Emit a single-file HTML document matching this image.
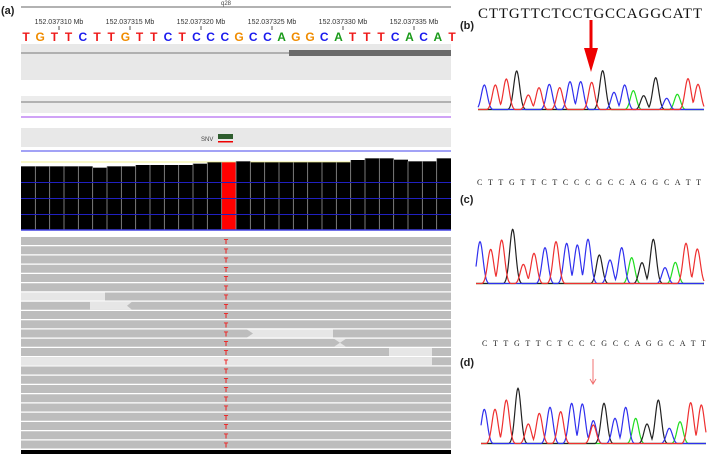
<!DOCTYPE html>
<html><head><meta charset="utf-8"><style>
body{margin:0;background:#fff;width:709px;height:455px;overflow:hidden;font-family:"Liberation Sans",sans-serif}
svg{position:absolute;left:0;top:0}
</style></head><body>
<svg id="s" width="709" height="455" xmlns="http://www.w3.org/2000/svg">
<text x="1" y="14" font-size="11" font-weight="bold" fill="#222">(a)</text>
<line x1="21" y1="7" x2="451" y2="7" stroke="#666"/>
<text x="226" y="5" font-size="6" text-anchor="middle" fill="#444">q28</text>
<g font-size="7" fill="#333" text-anchor="middle">
<text x="59" y="24">152.037310 Mb</text><text x="130" y="24">152.037315 Mb</text>
<text x="201" y="24">152.037320 Mb</text><text x="272" y="24">152.037325 Mb</text>
<text x="343" y="24">152.037330 Mb</text><text x="414" y="24">152.037335 Mb</text>
</g>
<g stroke="#555"><line x1="59" y1="26" x2="59" y2="30"/><line x1="130" y1="26" x2="130" y2="30"/><line x1="201" y1="26" x2="201" y2="30"/><line x1="272" y1="26" x2="272" y2="30"/><line x1="343" y1="26" x2="343" y2="30"/><line x1="414" y1="26" x2="414" y2="30"/></g>
<g id="bases" font-size="12" font-weight="bold" text-anchor="middle"></g>
<rect x="21" y="44" width="430" height="36" fill="#e8e8e8"/>
<line x1="21" y1="53" x2="289" y2="53" stroke="#777"/>
<rect x="289" y="50" width="162" height="6" fill="#6a6a6a"/>
<rect x="21" y="96" width="430" height="17" fill="#ececec"/>
<line x1="21" y1="102" x2="451" y2="102" stroke="#777"/>
<line x1="21" y1="117" x2="451" y2="117" stroke="#b46cf0" stroke-width="1.2"/>
<rect x="21" y="128" width="430" height="19" fill="#e8e8e8"/>
<text x="201" y="141" font-size="6" fill="#444">SNV</text>
<rect x="218" y="134" width="15" height="5" fill="#2e5d2e"/>
<rect x="218" y="141" width="15" height="1.5" fill="#e00"/>
<line x1="21" y1="151" x2="451" y2="151" stroke="#6a6af0" stroke-width="1.2"/>
<line x1="21" y1="162" x2="451" y2="162" stroke="#f0f090"/>
<g id="cov"></g>
<g stroke="#2020c0" stroke-width="1"><line x1="21" y1="182.5" x2="451" y2="182.5"/><line x1="21" y1="198.5" x2="451" y2="198.5"/><line x1="21" y1="214.5" x2="451" y2="214.5"/></g>
<line x1="21" y1="230" x2="451" y2="230" stroke="#4040e0" stroke-width="1.5"/>
<g id="reads"></g>
<rect x="21" y="450" width="430" height="4" fill="#000"/>
<text x="478" y="18" font-family="Liberation Serif" font-size="15" fill="#111" textLength="224">CTTGTTCTCCTGCCAGGCATT</text>
<text x="460" y="29" font-size="11" font-weight="bold" fill="#222">(b)</text>
<rect x="589.5" y="20" width="3" height="34" fill="#e00"/>
<polygon points="584,48 598,48 591,72" fill="#e00"/>
<text x="477" y="185" font-family="Liberation Serif" font-size="8" fill="#222" textLength="224">C T T G T T C T C C C G C C A G G C A T T</text>
<text x="460" y="203" font-size="11" font-weight="bold" fill="#222">(c)</text>
<text x="482" y="346" font-family="Liberation Serif" font-size="8" fill="#222" textLength="224">C T T G T T C T C C C G C C A G G C A T T</text>
<text x="460" y="366" font-size="11" font-weight="bold" fill="#222">(d)</text>
<line x1="593" y1="359" x2="593" y2="384" stroke="#f07070"/>
<polyline points="590,379 593,384 596,379" fill="none" stroke="#f07070"/>
<g id="chrom" fill="none" stroke-width="1.2"></g>
</svg>
<script>
var NS="http://www.w3.org/2000/svg";
function el(p,t,a,txt){var e=document.createElementNS(NS,t);for(var k in a)e.setAttribute(k,a[k]);if(txt)e.textContent=txt;document.getElementById(p).appendChild(e);return e;}
var seq="TGTTCTTGTTCTCCCGCCAGGCATTTCACAT",col={A:"#1a9a1a",C:"#1a1aee",G:"#f08c00",T:"#ee1a1a"};
for(var i=0;i<31;i++)el("bases","text",{x:26+i*14.2,y:41,fill:col[seq[i]]},seq[i]);
var tops=[499,499,499,499,499,503,499,499,495,495,495,495,491,487,487,484,487,487,487,487,487,487,487,480,475,475,479,484,484,475];
var w=430/30;
for(var i=0;i<30;i++){var y=tops[i]/3;el("cov","rect",{x:21+i*w,y:y,width:w,height:230-y,fill:i==14?"#f00":"#000"});
 if(i>0)el("cov","line",{x1:21+i*w,y1:y,x2:21+i*w,y2:230,stroke:"#999","stroke-width":0.8});}
for(var r=0;r<23;r++){var y=237+r*9.25;
 el("reads","rect",{x:21,y:y,width:430,height:8,fill:"#bdbdbd"});
 if(r==6)el("reads","rect",{x:21,y:y,width:84,height:8,fill:"#e6e6e6"});
 if(r==7)el("reads","polygon",{points:"90,"+y+" 132,"+y+" 127,"+(y+4)+" 132,"+(y+8)+" 90,"+(y+8),fill:"#e6e6e6"});
 if(r==10)el("reads","polygon",{points:"247,"+y+" 333,"+y+" 333,"+(y+8)+" 247,"+(y+8)+" 253,"+(y+4),fill:"#e6e6e6"});
 if(r==11)el("reads","polygon",{points:"334,"+y+" 346,"+y+" 340,"+(y+4)+" 346,"+(y+8)+" 334,"+(y+8)+" 340,"+(y+4),fill:"#e6e6e6"});
 if(r==12)el("reads","rect",{x:389,y:y,width:43,height:8,fill:"#e6e6e6"});
 if(r==13)el("reads","rect",{x:21,y:y,width:411,height:8,fill:"#e6e6e6"});
 el("reads","text",{x:226,y:y+7,"font-size":7,"font-weight":"bold",fill:"#ee2020","text-anchor":"middle"},"T");}
var cc={C:"#3030ee",T:"#ee3030",G:"#222",A:"#20dd20"};
function chrom(s,xs,ts,base,x0,x1,extra){
 var peaks=[];for(var i=0;i<s.length;i++)peaks.push({c:s[i],x:xs[i]/3+460,h:base-ts[i]/3});
 if(extra)peaks.push(extra);
 ["A","G","C","T"].forEach(function(c){var d="";for(var x=x0;x<=x1;x+=0.5){var v=0.5;peaks.forEach(function(p){if(p.c==c)v=Math.max(v,p.h*Math.exp(-Math.pow((x-p.x)/3.0,2)/2));});d+=(d?"L":"M")+x.toFixed(1)+","+(base-v).toFixed(1);}
 el("chrom","path",{d:d,stroke:cc[c]});});}
chrom("CTTGTTCTCCTGCCAGGCATT",[73,106,139,170,205,237,268,299,330,362,395,428,462,494,520,551,587,620,652,684,714],[255,255,237,213,285,263,253,263,245,245,247,212,277,255,272,287,233,295,283,236,253],110,478,704);
chrom("CTTGTTCTCCCGCCAGGCATT",[60,92,125,158,190,222,255,288,320,352,384,418,450,485,515,546,580,615,646,678,712],[725,748,720,688,793,760,743,725,730,735,718,765,780,743,773,788,718,803,787,730,747],284,476,704);
chrom("CTTGTTCTCCCGCCAGGCATT",[73,105,139,174,205,238,270,302,335,367,400,432,465,497,527,561,595,628,660,692,724],[1228,1228,1200,1165,1272,1240,1222,1235,1210,1212,1262,1210,1255,1222,1255,1272,1200,1285,1265,1208,1215],444,481,706,{c:"T",x:400/3+460,h:444-1275/3});
</script>
</body></html>
